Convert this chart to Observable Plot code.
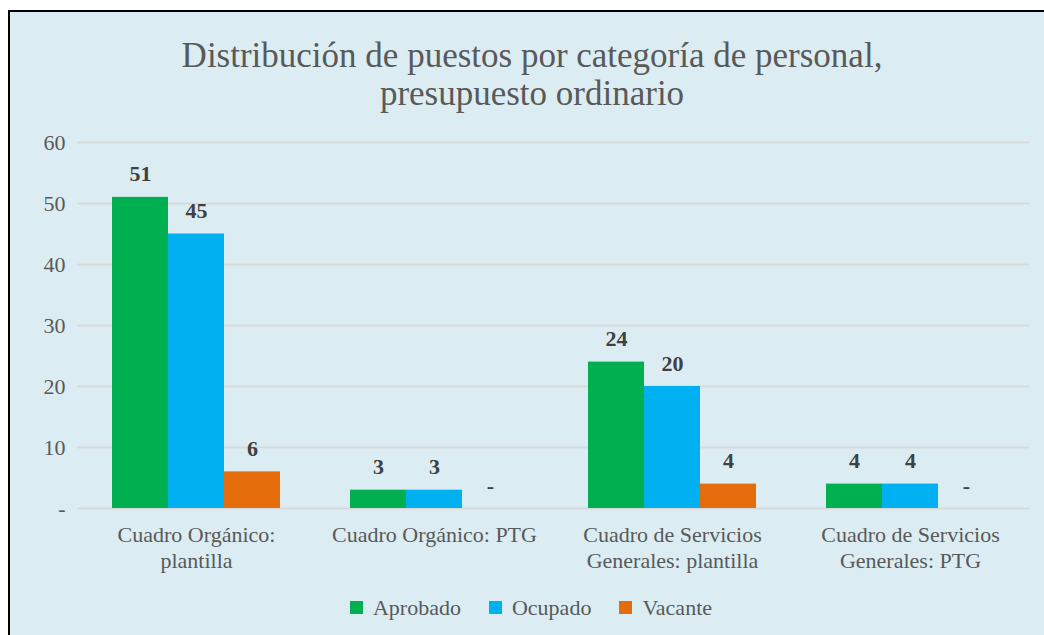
<!DOCTYPE html>
<html>
<head>
<meta charset="utf-8">
<script src="https://cdn.jsdelivr.net/npm/d3@7"></script>
<script src="https://cdn.jsdelivr.net/npm/@observablehq/plot@0.6"></script>
<style>
  html, body { margin: 0; padding: 0; width: 1044px; height: 635px; overflow: hidden; background: #ffffff; }
  #frame { position: absolute; left: 8px; top: 10px; width: 1036px; height: 640px; background: #dbedf3;
           border-top: 2px solid #000; border-left: 2px solid #000; box-sizing: border-box; }
  #title { position: absolute; left: 20px; width: 1024px; top: 37px; text-align: center;
           font-family: "Liberation Serif", serif; font-size: 35px; line-height: 38px; color: #595959; }
  #chart { position: absolute; left: 0; top: 120px; }
  #legend { position: absolute; left: 0; width: 1062px; top: 594px; text-align: center;
            font-family: "Liberation Serif", serif; font-size: 22px; color: #595959; }
  #legend span.item { display: inline-flex; align-items: center; margin: 0 14px; }
  #legend span.sw { display: inline-block; width: 13px; height: 13px; margin-right: 10px; }
</style>
</head>
<body>
<div id="frame"></div>
<div id="title">Distribución de puestos por categoría de personal,<br>presupuesto ordinario</div>
<div id="chart"></div>
<div id="legend"></div>
<script>
const categories = [
  "Cuadro Orgánico:\nplantilla",
  "Cuadro Orgánico: PTG",
  "Cuadro de Servicios\nGenerales: plantilla",
  "Cuadro de Servicios\nGenerales: PTG"
];
const series = ["Aprobado", "Ocupado", "Vacante"];
const colors = ["#00b050", "#00b0f0", "#e46c0a"];
const aprobado = [51, 3, 24, 4];
const ocupado = [45, 3, 20, 4];
const vacante = [6, 0, 4, 0];
const yTicks = [0, 10, 20, 30, 40, 50, 60];

const valuesBySeries = [aprobado, ocupado, vacante];
const data = [];
categories.forEach((c, i) => {
  series.forEach((s, j) => data.push({category: c, series: s, value: valuesBySeries[j][i]}));
});
const fmt = v => v === 0 ? "-" : String(v);

const plot = Plot.plot({
  width: 1044,
  height: 460,
  marginTop: 22,
  marginBottom: 72,
  marginLeft: 77,
  marginRight: 15,
  style: {fontFamily: "Liberation Serif, serif", fontSize: "22px", color: "#595959", background: "transparent"},
  fx: {domain: categories, padding: 0, label: null},
  x: {domain: series, paddingInner: 0, paddingOuter: 0.61, axis: null},
  y: {domain: [0, 60], label: null},
  color: {domain: series, range: colors},
  marks: [
    Plot.gridY(yTicks, {stroke: "#d9d9d9", strokeOpacity: 1, strokeWidth: 2}),
    Plot.axisY(yTicks, {tickSize: 0, tickPadding: 12, tickFormat: fmt, fill: "#595959", fontSize: 22, label: null}),
    Plot.axisFx({anchor: "bottom", tickSize: 0, tickPadding: 16, lineHeight: 1.15, fill: "#595959", fontSize: 22, label: null}),
    Plot.barY(data, {fx: "category", x: "series", y: "value", fill: "series"}),
    Plot.text(data, {fx: "category", x: "series", y: "value", text: d => fmt(d.value), dy: -23,
      fontWeight: "bold", fontSize: 22, fill: "#404040"})
  ]
});
document.getElementById("chart").appendChild(plot);

const legend = document.getElementById("legend");
series.forEach((s, j) => {
  const item = document.createElement("span");
  item.className = "item";
  const sw = document.createElement("span");
  sw.className = "sw";
  sw.style.background = colors[j];
  item.appendChild(sw);
  item.appendChild(document.createTextNode(s));
  legend.appendChild(item);
});
</script>
</body>
</html>
